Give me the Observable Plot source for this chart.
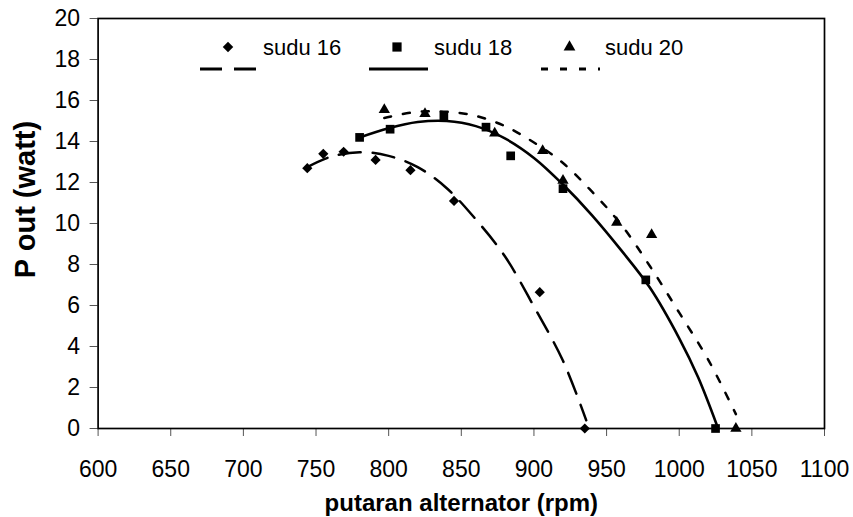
<!DOCTYPE html>
<html><head><meta charset="utf-8">
<script src="https://cdn.jsdelivr.net/npm/d3@7"></script>
<script src="https://cdn.jsdelivr.net/npm/@observablehq/plot@0.6"></script>
<style>
body{margin:0;background:#fff;}
#wrap{position:relative;width:853px;height:517px;font-family:"Liberation Sans",Arial,sans-serif;}
#legend{position:absolute;left:0;top:0;pointer-events:none;}
</style></head><body>
<div id="wrap"><div id="chart"></div><svg id="legend" width="853" height="90"></svg></div>
<script>
// ---- data ----
const seriesNames = ["sudu 16", "sudu 18", "sudu 20"];
const rpm16  = [744, 755, 769, 791, 815, 845, 904, 935];
const pout16 = [12.7, 13.4, 13.5, 13.1, 12.6, 11.1, 6.65, 0];
const rpm18  = [780, 801, 838, 867, 884, 920, 977, 1025];
const pout18 = [14.2, 14.6, 15.25, 14.7, 13.3, 11.7, 7.25, 0];
const rpm20  = [797, 825, 873, 906, 920, 957, 981, 1039];
const pout20 = [15.55, 15.35, 14.4, 13.55, 12.1, 10.05, 9.45, 0];
// trend lines
const trendX16 = [744, 760, 780, 800, 820, 840, 860, 880, 900, 920, 936];
const trendY16 = [12.75, 13.25, 13.48, 13.3, 12.75, 11.72, 10.2, 8.4, 5.95, 3.3, 0.4];
const trendX18 = [780, 800, 820, 840, 860, 880, 900, 920, 940, 960, 980, 1000, 1013, 1026];
const trendY18 = [14.2, 14.65, 14.95, 15.0, 14.75, 14.15, 13.2, 11.9, 10.4, 8.7, 6.85, 4.4, 2.5, 0.15];
const trendX20 = [797, 820, 840, 860, 880, 900, 920, 940, 960, 980, 1000, 1020, 1039];
const trendY20 = [15.15, 15.45, 15.45, 15.25, 14.75, 13.95, 12.95, 11.55, 9.95, 7.9, 5.65, 3.35, 0.7];
const xTicks = [600, 650, 700, 750, 800, 850, 900, 950, 1000, 1050, 1100];
const yTicks = [0, 2, 4, 6, 8, 10, 12, 14, 16, 18, 20];
const xTitle = "putaran alternator (rpm)";
const yTitle = "P out (watt)";

const pts = (xs, ys) => xs.map((x, i) => ({x, y: ys[i]}));
const d16 = pts(rpm16, pout16), d18 = pts(rpm18, pout18), d20 = pts(rpm20, pout20);
const t16 = pts(trendX16, trendY16), t18 = pts(trendX18, trendY18), t20 = pts(trendX20, trendY20);

const chart = Plot.plot({
  width: 853, height: 517,
  marginLeft: 97.6, marginRight: 29, marginTop: 18, marginBottom: 89,
  style: {fontFamily: "Liberation Sans, Arial, sans-serif", fontSize: "23px", background: "white", color: "black", overflow: "visible"},
  x: {domain: [600, 1100]},
  y: {domain: [0, 20]},
  marks: [
    Plot.axisX({ticks: xTicks, tickSize: 8, tickPadding: 24, stroke: "#555", label: null, tickFormat: d => String(d)}),
    Plot.axisY({ticks: yTicks, tickSize: 8, tickPadding: 10, stroke: "#555", label: null}),
    Plot.line(t16, {x: "x", y: "y", curve: "catmull-rom", stroke: "black", strokeWidth: 2.5, strokeDasharray: "22,12"}),
    Plot.line(t18, {x: "x", y: "y", curve: "catmull-rom", stroke: "black", strokeWidth: 2.6}),
    Plot.line(t20, {x: "x", y: "y", curve: "catmull-rom", stroke: "black", strokeWidth: 2.5, strokeDasharray: "7,12"}),
    Plot.frame({stroke: "black", strokeWidth: 1.7}),
    Plot.dot(d16, {x: "x", y: "y", symbol: "diamond2", r: 4.6, fill: "black", stroke: "none"}),
    Plot.dot(d18, {x: "x", y: "y", symbol: "square", r: 4.9, fill: "black", stroke: "none"}),
    Plot.dot(d20, {x: "x", y: "y", symbol: "triangle", r: 4.2, fill: "black", stroke: "none"}),
    Plot.text([xTitle], {frameAnchor: "bottom", lineAnchor: "bottom", textAnchor: "middle", dy: 82, fontWeight: "bold", fontSize: 24, fill: "black"}),
    Plot.text([yTitle], {frameAnchor: "left", lineAnchor: "bottom", textAnchor: "middle", rotate: -90, dx: -63.6, dy: -24, fontWeight: "bold", fontSize: 29, fill: "black"})
  ]
});
document.getElementById("chart").appendChild(chart);

// ---- legend (inside the plot, top) ----
const lg = d3.select("#legend");
const items = [
  {name: seriesNames[0], sym: d3.symbolDiamond2, size: 70, sx: 228, tx: 263, lx: [200, 256], dash: "22,12"},
  {name: seriesNames[1], sym: d3.symbolSquare, size: 85, sx: 397, tx: 434, lx: [369, 428], dash: null},
  {name: seriesNames[2], sym: d3.symbolTriangle, size: 60, sx: 569.5, tx: 605, lx: [541, 600], dash: "7,12"}
];
for (const it of items) {
  lg.append("path").attr("d", d3.symbol(it.sym, it.size)()).attr("transform", `translate(${it.sx},47)`).attr("fill", "black");
  lg.append("text").attr("x", it.tx).attr("y", 55).attr("font-size", 22).attr("font-family", "Liberation Sans, Arial, sans-serif").attr("fill", "black").text(it.name);
  const ln = lg.append("line").attr("x1", it.lx[0]).attr("x2", it.lx[1]).attr("y1", 69).attr("y2", 69).attr("stroke", "black").attr("stroke-width", 3);
  if (it.dash) ln.attr("stroke-dasharray", it.dash);
}
</script>
</body></html>
